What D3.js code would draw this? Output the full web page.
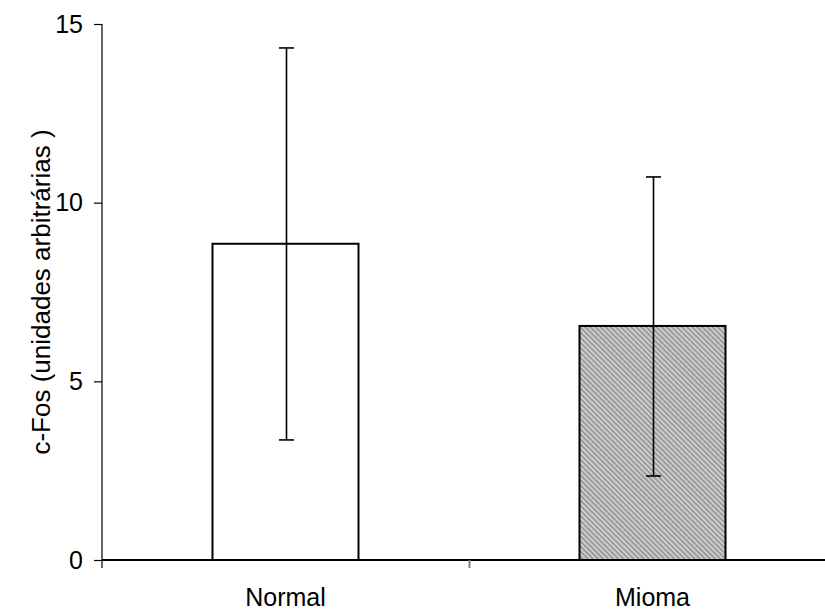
<!DOCTYPE html>
<html lang="pt">
<head>
    <meta charset="UTF-8">
    <title>c-Fos</title>
    <script src="https://cdnjs.cloudflare.com/ajax/libs/d3/7.8.5/d3.min.js"></script>
    <style>
        body { margin: 0; background: #fff; }
        text { font-family: "Liberation Sans", Arial, sans-serif; fill: #000; }
    </style>
</head>
<body>
    <svg width="825" height="616"></svg>

    <script>
        // data
        const groups = ["Normal", "Mioma"];
        const means = [8.85, 6.55];
        const errHigh = [14.33, 10.72];
        const errLow = [3.36, 2.35];
        const yTicks = [0, 5, 10, 15];

        const svg = d3.select("svg");
        const mLeft = 102, mRight = 836, mTop = 24, mBottom = 560;
        const fontSize = 25;

        const x = d3.scaleBand().domain(groups).range([mLeft, mRight]).paddingInner(0).paddingOuter(0);
        const y = d3.scaleLinear().domain([0, 15]).range([mBottom, mTop]);

        // hatch pattern for the Mioma bar
        const defs = svg.append("defs");
        const pat = defs.append("pattern")
            .attr("id", "hatch")
            .attr("patternUnits", "userSpaceOnUse")
            .attr("width", 3.6).attr("height", 3.6)
            .attr("patternTransform", "rotate(-45)");
        pat.append("rect").attr("width", 3.6).attr("height", 3.6).attr("fill", "#9a9a9a");
        pat.append("rect").attr("width", 1.4).attr("height", 3.6).attr("fill", "#dcdcdc");

        const barW = 146;
        const fills = ["#ffffff", "url(#hatch)"];

        // bars
        svg.append("g").selectAll("rect")
            .data(groups)
            .join("rect")
            .attr("x", d => x(d) + x.bandwidth() / 2 - barW / 2)
            .attr("y", (d, i) => y(means[i]))
            .attr("width", barW)
            .attr("height", (d, i) => y(0) - y(means[i]))
            .attr("fill", (d, i) => fills[i])
            .attr("stroke", "#000")
            .attr("stroke-width", 2);

        // error bars
        const eb = svg.append("g").attr("stroke", "#000").attr("stroke-width", 1.6);
        groups.forEach((g, i) => {
            const cx = Math.round(x(g) + x.bandwidth() / 2) + 0.5;
            eb.append("line").attr("x1", cx).attr("x2", cx)
                .attr("y1", y(errHigh[i])).attr("y2", y(errLow[i]));
            [errHigh[i], errLow[i]].forEach(v => {
                eb.append("line").attr("x1", cx - 7.5).attr("x2", cx + 7.5)
                    .attr("y1", y(v)).attr("y2", y(v));
            });
        });

        // y axis
        const yAxis = svg.append("g")
            .attr("transform", `translate(${mLeft},0)`)
            .call(d3.axisLeft(y).tickValues(yTicks).tickSize(8).tickPadding(11).tickSizeOuter(0));
        yAxis.select(".domain").remove();
        yAxis.append("line").attr("x1", 0).attr("x2", 0).attr("y1", mTop).attr("y2", mBottom + 8)
            .attr("stroke", "#000").attr("stroke-width", 1.2);
        yAxis.selectAll(".tick line").attr("stroke", "#000").attr("stroke-width", 1.2);
        yAxis.selectAll(".tick text").attr("font-size", fontSize).attr("font-family", "Liberation Sans, Arial, sans-serif");

        // x axis
        const xAxis = svg.append("g")
            .attr("transform", `translate(0,${mBottom})`)
            .call(d3.axisBottom(x).tickSize(0).tickPadding(28));
        xAxis.select(".domain").remove();
        xAxis.append("line").attr("x1", mLeft).attr("x2", 825).attr("y1", 0).attr("y2", 0)
            .attr("stroke", "#000").attr("stroke-width", 2);
        xAxis.append("line").attr("x1", x("Mioma") + 0.5).attr("x2", x("Mioma") + 0.5)
            .attr("y1", 0).attr("y2", 8).attr("stroke", "#808080").attr("stroke-width", 2);
        xAxis.selectAll(".tick text").attr("font-size", fontSize).attr("font-family", "Liberation Sans, Arial, sans-serif");

        // y axis title
        svg.append("text")
            .attr("transform", `translate(50,${(mTop + mBottom) / 2}) rotate(-90)`)
            .attr("text-anchor", "middle")
            .attr("font-size", 26)
            .text("c-Fos (unidades arbitrárias )");
    </script>
</body>
</html>
